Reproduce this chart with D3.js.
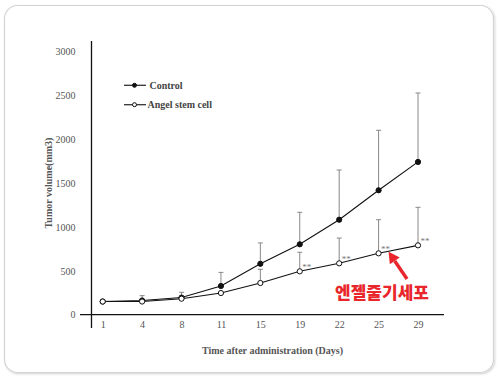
<!DOCTYPE html>
<html>
<head>
<meta charset="utf-8">
<script src="https://cdn.jsdelivr.net/npm/d3@7"></script>
<style>
  body { margin: 0; background: #fff; }
  svg { display: block; }
</style>
</head>
<body>
<svg id="chart"></svg>
<script>
(() => {

  const days = ['1', '4', '8', '11', '15', '19', '22', '25', '29'];
  const controlMean = [150, 162, 195, 327, 580, 802, 1082, 1417, 1740];
  const controlErr = [0, 55, 60, 155, 237, 364, 566, 683, 785];
  const angelMean = [150, 150, 182, 247, 361, 494, 585, 699, 790];
  const angelErr = [0, 0, 0, 0, 156, 217, 288, 383, 433];
  const starDays = ['19', '22', '25', '29'];
  const yTicks = [0, 500, 1000, 1500, 2000, 2500, 3000];

  const svgWidth = 497;
  const svgHeight = 378;
  const serif = '"Liberation Serif", "Times New Roman", serif';

  const svg = d3.select('#chart')
    .attr('width', svgWidth)
    .attr('height', svgHeight);

  // card frame
  const defs = svg.append('defs');
  const shadow = defs.append('filter').attr('id', 'shadow')
    .attr('x', '-5%').attr('y', '-5%').attr('width', '110%').attr('height', '110%');
  shadow.append('feDropShadow')
    .attr('dx', 1).attr('dy', 1).attr('stdDeviation', 1)
    .attr('flood-color', '#000').attr('flood-opacity', 0.18);

  svg.append('rect')
    .attr('x', 4.5).attr('y', 5.5)
    .attr('width', 489).attr('height', 367)
    .attr('rx', 13)
    .attr('fill', '#fff')
    .attr('stroke', '#d4d4d4')
    .attr('stroke-width', 1.2)
    .attr('filter', 'url(#shadow)');

  const xScale = d3.scalePoint()
    .domain(days)
    .range([102.7, 418]);

  const yScale = d3.scaleLinear()
    .domain([0, 3000])
    .range([314.7, 51.3]);

  // y axis
  const yAxis = svg.append('g')
    .attr('transform', 'translate(91.5,0)')
    .call(d3.axisLeft(yScale).tickValues(yTicks).tickSize(0).tickPadding(16).tickFormat(d3.format('d')));
  yAxis.select('.domain').remove();
  yAxis.selectAll('text')
    .attr('font-family', serif)
    .attr('font-size', 10)
    .attr('fill', '#555');

  svg.append('line')
    .attr('x1', 91.5).attr('x2', 91.5)
    .attr('y1', 41).attr('y2', 328)
    .attr('stroke', '#111').attr('stroke-width', 1.3);

  // x axis
  const xAxis = svg.append('g')
    .attr('transform', `translate(0,${yScale(0)})`)
    .call(d3.axisBottom(xScale).tickSize(0).tickPadding(6));
  xAxis.select('.domain').remove();
  xAxis.selectAll('text')
    .attr('font-family', serif)
    .attr('font-size', 10)
    .attr('fill', '#555');

  svg.append('line')
    .attr('x1', 80).attr('x2', 444)
    .attr('y1', yScale(0)).attr('y2', yScale(0))
    .attr('stroke', '#111').attr('stroke-width', 1.3);

  // axis titles
  svg.append('text')
    .attr('x', 272.5).attr('y', 354)
    .attr('text-anchor', 'middle')
    .attr('font-family', serif)
    .attr('font-weight', 'bold')
    .attr('font-size', 10)
    .attr('fill', '#555')
    .text('Time after administration (Days)');

  svg.append('text')
    .attr('transform', 'translate(51.5,183) rotate(-90)')
    .attr('text-anchor', 'middle')
    .attr('font-family', serif)
    .attr('font-weight', 'bold')
    .attr('font-size', 10)
    .attr('fill', '#555')
    .text('Tumor volume(mm3)');

  const series = [
    { name: 'Control', mean: controlMean, err: controlErr, fill: '#111' },
    { name: 'Angel stem cell', mean: angelMean, err: angelErr, fill: '#fff' }
  ];

  const line = d3.line()
    .x((d, i) => xScale(days[i]))
    .y(d => yScale(d));

  // error bars
  series.forEach(s => {
    const bars = svg.append('g')
      .selectAll('g')
      .data(s.mean.map((m, i) => ({ day: days[i], m, e: s.err[i] })).filter(d => d.e > 0))
      .enter()
      .append('g')
      .attr('stroke', '#888')
      .attr('stroke-width', 1);

    bars.append('line')
      .attr('x1', d => xScale(d.day)).attr('x2', d => xScale(d.day))
      .attr('y1', d => yScale(d.m)).attr('y2', d => yScale(d.m + d.e));

    bars.append('line')
      .attr('x1', d => xScale(d.day) - 2.5).attr('x2', d => xScale(d.day) + 2.5)
      .attr('y1', d => yScale(d.m + d.e)).attr('y2', d => yScale(d.m + d.e));
  });

  // lines and markers
  series.forEach(s => {
    svg.append('path')
      .attr('fill', 'none')
      .attr('stroke', '#111')
      .attr('stroke-width', 1.1)
      .attr('d', line(s.mean));

    svg.append('g')
      .selectAll('circle')
      .data(s.mean)
      .enter()
      .append('circle')
      .attr('cx', (d, i) => xScale(days[i]))
      .attr('cy', d => yScale(d))
      .attr('r', 2.6)
      .attr('fill', s.fill)
      .attr('stroke', '#111')
      .attr('stroke-width', 1);
  });

  // significance marks
  svg.append('g')
    .selectAll('text')
    .data(starDays)
    .enter()
    .append('text')
    .attr('x', d => xScale(d) + 2.5)
    .attr('y', d => yScale(angelMean[days.indexOf(d)]) - 1.5)
    .attr('font-family', serif)
    .attr('font-size', 9)
    .attr('fill', '#777')
    .text('**');

  // legend
  const legend = svg.append('g');
  series.forEach((s, i) => {
    const y = 85.3 + i * 19.4;
    legend.append('line')
      .attr('x1', 124).attr('x2', 146)
      .attr('y1', y).attr('y2', y)
      .attr('stroke', '#333').attr('stroke-width', 1.3);
    legend.append('circle')
      .attr('cx', 134.5).attr('cy', y)
      .attr('r', 2)
      .attr('fill', s.fill)
      .attr('stroke', '#111')
      .attr('stroke-width', 1);
    legend.append('text')
      .attr('x', i === 0 ? 149.5 : 147.5)
      .attr('y', y + 3.5)
      .attr('font-family', serif)
      .attr('font-weight', 'bold')
      .attr('font-size', 10)
      .attr('fill', '#444')
      .text(s.name);
  });

  // annotation arrow
  const headX = xScale('25') + 10;
  const headY = yScale(angelMean[days.indexOf('25')]) - 1.5;
  const angle = Math.atan2(headY - 279, headX - 407);
  const ux = Math.cos(angle), uy = Math.sin(angle);
  const baseX = headX - ux * 11, baseY = headY - uy * 11;

  svg.append('line')
    .attr('x1', 407).attr('y1', 279)
    .attr('x2', baseX).attr('y2', baseY)
    .attr('stroke', '#e8262b')
    .attr('stroke-width', 3.4);

  svg.append('path')
    .attr('fill', '#e8262b')
    .attr('d', `M${headX},${headY}L${baseX - uy * 6},${baseY + ux * 6}L${baseX + uy * 6},${baseY - ux * 6}Z`);

  svg.append('text')
    .attr('x', 382)
    .attr('y', 299)
    .attr('text-anchor', 'middle')
    .attr('font-family', '"Noto Sans CJK KR", sans-serif')
    .attr('font-weight', 900)
    .attr('font-size', 17)
    .attr('fill', '#e8262b')
    .text('엔젤줄기세포');

})();
</script>
</body>
</html>
